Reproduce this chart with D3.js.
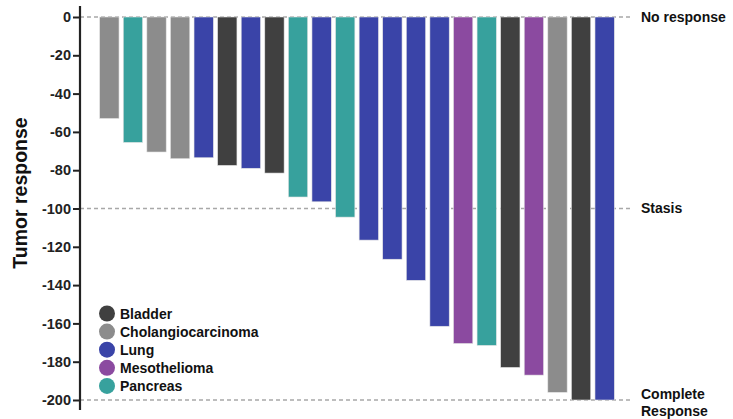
<!DOCTYPE html>
<html>
<head>
<meta charset="utf-8">
<script src="https://cdn.jsdelivr.net/npm/d3@7"></script>
<style>
  body { margin: 0; background: #fff; }
  svg { display: block; font-family: "Liberation Sans", Arial, sans-serif; }
</style>
</head>
<body>
<svg id="chart" width="733" height="419"></svg>
<script>
// Best tumour response per patient, ordered as a waterfall
const patients = d3.range(1, 23).map(i => "P" + i);
const tumorType = [
  "Cholangiocarcinoma", "Pancreas", "Cholangiocarcinoma", "Cholangiocarcinoma",
  "Lung", "Bladder", "Lung", "Bladder", "Pancreas", "Lung", "Pancreas",
  "Lung", "Lung", "Lung", "Lung", "Mesothelioma", "Pancreas", "Bladder",
  "Mesothelioma", "Cholangiocarcinoma", "Bladder", "Lung"
];
const response = [
  -53, -65.5, -70.5, -74, -73.5, -77.5, -79, -81.5, -94, -96.5, -104.5,
  -116.5, -126.5, -137.5, -161.5, -170.5, -171.5, -183, -187, -196, -200, -200
];
const legendTypes = ["Bladder", "Cholangiocarcinoma", "Lung", "Mesothelioma", "Pancreas"];
const typeColors = ["#404040", "#8c8c8c", "#3a44a8", "#8b4aa0", "#37a19d"];
const yTicks = [0, -20, -40, -60, -80, -100, -120, -140, -160, -180, -200];
const refLevels = [0, -100, -200];
const refLabels = [["No response"], ["Stasis"], ["Complete", "Response"]];

const svg = d3.select("#chart");
const color = d3.scaleOrdinal().domain(legendTypes).range(typeColors);

const x = d3.scaleBand().domain(patients).range([98.5, 615.5]).paddingInner(0.18).paddingOuter(0.05);
const y = d3.scaleLinear().domain([0, -200]).range([17, 400]);

// reference lines
svg.append("g").selectAll("line").data(refLevels).join("line")
  .attr("x1", 80).attr("x2", 633)
  .attr("y1", d => y(d)).attr("y2", d => y(d))
  .attr("stroke", "#a8a8a8").attr("stroke-width", 1.3)
  .attr("stroke-dasharray", "4,3");

// bars
svg.append("g").selectAll("rect").data(response).join("rect")
  .attr("x", (d, i) => x(patients[i]))
  .attr("width", x.bandwidth())
  .attr("y", y(0))
  .attr("height", d => y(d) - y(0))
  .attr("fill", (d, i) => color(tumorType[i]))
  .attr("stroke", "#e4e4e4").attr("stroke-width", 0.6);

// y axis (plain hyphen for negative labels)
const yAxis = d3.axisLeft(y).tickValues(yTicks).tickSize(7).tickPadding(2).tickFormat(d => String(d));
const ga = svg.append("g").attr("transform", "translate(80,0)").call(yAxis);
ga.select(".domain").remove();
ga.append("line").attr("x1", 0).attr("x2", 0).attr("y1", 6).attr("y2", 410)
  .attr("stroke", "#222").attr("stroke-width", 2.2);
ga.selectAll(".tick line").attr("stroke", "#222").attr("stroke-width", 2);
ga.selectAll(".tick text")
  .attr("fill", "#222").style("font-size", "14.5px").style("font-weight", "bold")
  .style("font-family", "'Liberation Sans', Arial, sans-serif");

// axis title
svg.append("text")
  .attr("transform", "translate(27,193) rotate(-90)")
  .attr("text-anchor", "middle")
  .style("font-size", "19.5px").style("font-weight", "bold").attr("fill", "#111")
  .text("Tumor response");

// reference labels
const rl = svg.append("g").selectAll("text").data(refLevels).join("text")
  .attr("x", 641)
  .attr("y", d => y(d))
  .style("font-size", "14px").style("font-weight", "bold").attr("fill", "#111");
rl.each(function(d, i) {
  const lines = refLabels[i];
  const t = d3.select(this);
  lines.forEach((s, k) => {
    t.append("tspan").attr("x", 641)
      .attr("dy", k === 0 ? (lines.length > 1 ? "-0.05em" : "0.35em") : "1.2em")
      .text(s);
  });
});

// legend
const lg = svg.append("g").selectAll("g").data(legendTypes).join("g")
  .attr("transform", (d, i) => `translate(107,${313.5 + i * 18.1})`);
lg.append("circle").attr("r", 8).attr("fill", d => color(d));
lg.append("text").attr("x", 13).attr("dy", "0.36em")
  .style("font-size", "14px").style("font-weight", "bold").attr("fill", "#111")
  .text(d => d);
</script>
</body>
</html>
